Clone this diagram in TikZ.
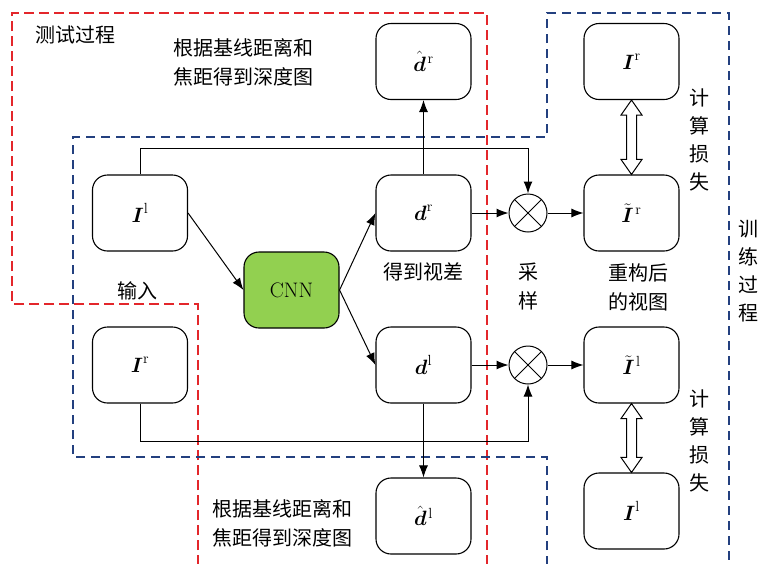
\documentclass[tikz,border=0pt]{standalone}
\usepackage{amsmath}
\usepackage{fontspec}
\newfontfamily\cjk{Noto Sans CJK SC}
\usetikzlibrary{arrows.meta,calc}
\definecolor{frred}{HTML}{E3262B}
\definecolor{frblue}{HTML}{23407F}
\definecolor{cnngreen}{HTML}{92D050}
\newcommand\dualarrow[2]{%
  \draw[line width=1pt, fill=white] (#1) -- ++(10.5,15) -- ++(-5.5,0)
    -- ($(#2)+(5,-15)$) -- ++(5.5,0) -- (#2) -- ++(-10.5,-15) -- ++(5.5,0)
    -- ($(#1)+(-5,15)$) -- ++(-5.5,0) -- cycle;}
\begin{document}
\begin{tikzpicture}[x=1pt,y=-1pt,
  box/.style={draw, line width=1.1pt, rounded corners=15pt, minimum width=95pt,
    minimum height=76pt, inner sep=0pt, font=\fontsize{21}{25}\selectfont},
  lab/.style={font=\cjk\fontsize{20}{29}\selectfont, align=center, inner sep=0pt},
  vlab/.style={font=\cjk\fontsize{20}{28}\selectfont, align=center, inner sep=0pt},
  arr/.style={line width=1pt, -{Latex[length=12pt,width=9pt]}},
  ln/.style={line width=1pt},
  mult/.style={draw, circle, line width=1pt, minimum size=38pt, inner sep=0pt},
  redframe/.style={draw=frred, dash pattern=on 10pt off 5pt, line width=1.3pt},
  blueframe/.style={draw=frblue, dash pattern=on 9pt off 6pt, line width=1.3pt}]
\clip (0,0) rectangle (760,563);
\fill[white] (0,0) rectangle (760,563);

% dashed frames: test stage (red) and training stage (blue)
\draw[redframe] (198,580) -- (198,304) -- (12,304) -- (12,13) -- (487,13) -- (487,580);
\draw[blueframe] (547,580) -- (547,457) -- (73,457) -- (73,137) -- (547,137)
  -- (547,13) -- (729,13) -- (729,580);

% boxes
\node[box] (Il) at (140,213) {$\boldsymbol{I}^{\mathrm{l}}$};
\node[box] (Ir) at (140,365) {$\boldsymbol{I}^{\mathrm{r}}$};
\node[box, fill=cnngreen] (cnn) at (291.5,290) {CNN};
\node[box] (dr) at (423.5,213) {$\boldsymbol{d}^{\mathrm{r}}$};
\node[box] (dl) at (423.5,365) {$\boldsymbol{d}^{\mathrm{l}}$};
\node[box] (dhr) at (423.5,61.5) {${\hat{\boldsymbol{d}}}\mkern1.5mu{}^{\mathrm{r}}$};
\node[box] (dhl) at (423.5,516) {${\hat{\boldsymbol{d}}}\mkern1.5mu{}^{\mathrm{l}}$};
\node[box] (Irgt) at (631.5,61.5) {$\boldsymbol{I}^{\mathrm{r}}$};
\node[box] (Itr) at (631.5,213) {${\tilde{\boldsymbol{I}}}\mkern1.5mu{}^{\mathrm{r}}$};
\node[box] (Itl) at (631.5,365) {${\tilde{\boldsymbol{I}}}\mkern1.5mu{}^{\mathrm{l}}$};
\node[box] (Ilgt) at (631.5,511) {$\boldsymbol{I}^{\mathrm{l}}$};

% sampling operators
\node[mult] (o1) at (528,213) {};
\node[mult] (o2) at (528,365) {};
\foreach \o in {o1,o2}{
  \draw[ln] (\o.north west) -- (\o.south east);
  \draw[ln] (\o.north east) -- (\o.south west);
}

% connectors
\draw[arr] (Il.east) -- (cnn.west);
\draw[arr] (cnn.east) -- (dr.west);
\draw[arr] (cnn.east) -- (dl.west);
\draw[arr] (dr.north) -- (dhr.south);
\draw[arr] (dl.south) -- (dhl.north);
\draw[arr] (dr.east) -- (o1.west);
\draw[arr] (dl.east) -- (o2.west);
\draw[arr] (o1.east) -- (Itr.west);
\draw[arr] (o2.east) -- (Itl.west);
\draw[arr] (Il.north) -- ++(0,-26) -| (o1.north);
\draw[arr] (Ir.south) -- ++(0,38) -| (o2.south);

% loss arrows
\dualarrow{Irgt.south}{Itr.north}
\dualarrow{Itl.south}{Ilgt.north}

% labels
\node[lab] (t1) at (75,35) {测试过程};
\node[lab] (t2) at (243,62) {根据基线距离和\\焦距得到深度图};
\node[lab] (t3) at (282,523) {根据基线距离和\\焦距得到深度图};
\node[lab] (t4) at (137,291) {输入};
\node[lab] (t5) at (423,272) {得到视差};
\node[lab] (t6) at (528,286) {采\\样};
\node[lab] (t7) at (638,287) {重构后\\的视图};
\node[vlab] (t8) at (748,271) {训\\练\\过\\程};
\node[vlab] (t9) at (699,140) {计\\算\\损\\失};
\node[vlab] (t10) at (699,441) {计\\算\\损\\失};
\end{tikzpicture}
\end{document}
